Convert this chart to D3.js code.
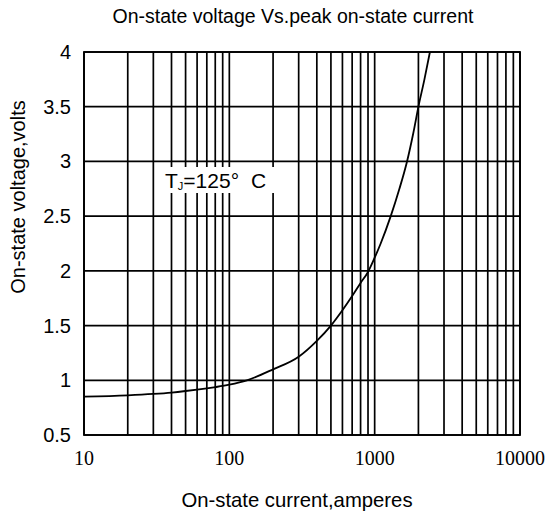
<!DOCTYPE html>
<html lang="en">
<head>
    <meta charset="UTF-8">
    <title>On-state voltage Vs.peak on-state current</title>
    <script src="https://d3js.org/d3.v7.min.js"></script>
    <style type="text/css">
        body { margin: 0; background: white; }
        .sans { font-family: Arial, "Liberation Sans", sans-serif; fill: black; }
        .serif { font-family: "Times New Roman", "Liberation Serif", serif; fill: black; }
        .grid line { stroke: black; stroke-width: 1.7; }
    </style>
</head>
<body>
<script type="text/javascript">

    // peak on-state current (A) vs on-state voltage (V)
    const currentA = [10, 20, 30, 40, 50, 60, 70, 80, 90, 100, 132, 200, 300, 400, 500,
                      600, 700, 800, 900, 1000, 1100, 1290, 1480, 1670, 1845, 2000, 2200, 2400];
    const voltageV = [0.85, 0.862, 0.875, 0.888, 0.902, 0.915, 0.927, 0.938, 0.948, 0.96, 1.0, 1.1,
                      1.215, 1.36, 1.5, 1.64, 1.77, 1.89, 1.99, 2.12, 2.25, 2.5, 2.75, 3.0,
                      3.26, 3.5, 3.75, 4.0];

    const xTickLabels = [10, 100, 1000, 10000];
    const yTickValues = [0.5, 1, 1.5, 2, 2.5, 3, 3.5, 4];

    const width = 549, height = 515;
    const plot = { left: 84, right: 520, top: 52, bottom: 435 };

    const svg = d3.select("body").append("svg")
        .attr("width", width)
        .attr("height", height);

    const x = d3.scaleLog().domain([10, 10000]).range([plot.left, plot.right]);
    const y = d3.scaleLinear().domain([0.5, 4]).range([plot.bottom, plot.top]);

    // grid: every 1..9 in each decade, plus the voltage steps
    const grid = svg.append("g").attr("class", "grid");
    grid.selectAll(".v")
        .data(x.ticks())
        .enter().append("line")
        .attr("x1", d => x(d)).attr("x2", d => x(d))
        .attr("y1", plot.top).attr("y2", plot.bottom);
    grid.selectAll(".h")
        .data(yTickValues)
        .enter().append("line")
        .attr("x1", plot.left).attr("x2", plot.right)
        .attr("y1", d => y(d)).attr("y2", d => y(d));

    // label with white box
    svg.append("rect")
        .attr("x", 155).attr("y", 167)
        .attr("width", 130).attr("height", 26)
        .attr("fill", "white");
    const lbl = svg.append("text")
        .attr("class", "sans")
        .attr("x", 165).attr("y", 188)
        .style("font-size", "21px");
    lbl.append("tspan").text("T");
    lbl.append("tspan").attr("dy", 2).style("font-size", "11px").text("J");
    lbl.append("tspan").attr("dy", -2).text("=125°");
    lbl.append("tspan").attr("dx", 12).text("C");

    // curve
    const line = d3.line()
        .x((d, i) => x(currentA[i]))
        .y(d => y(d))
        .curve(d3.curveMonotoneX);
    svg.append("path")
        .datum(voltageV)
        .attr("d", line)
        .attr("fill", "none")
        .attr("stroke", "black")
        .attr("stroke-width", 1.8);

    // frame
    svg.append("rect")
        .attr("x", plot.left).attr("y", plot.top)
        .attr("width", plot.right - plot.left).attr("height", plot.bottom - plot.top)
        .attr("fill", "none")
        .attr("stroke", "black")
        .attr("stroke-width", 1.8);

    // tick labels
    svg.selectAll(".ylab")
        .data(yTickValues)
        .enter().append("text")
        .attr("class", "sans")
        .attr("x", 71)
        .attr("y", d => y(d) + 7)
        .attr("text-anchor", "end")
        .style("font-size", "20px")
        .text(d => d);

    svg.selectAll(".xlab")
        .data(xTickLabels)
        .enter().append("text")
        .attr("class", "serif")
        .attr("x", d => x(d))
        .attr("y", 465)
        .attr("text-anchor", "middle")
        .style("font-size", "20px")
        .text(d => d);

    // titles
    svg.append("text")
        .attr("class", "sans")
        .attr("x", 293).attr("y", 23)
        .attr("text-anchor", "middle")
        .style("font-size", "19.5px")
        .text("On-state voltage Vs.peak on-state current");

    svg.append("text")
        .attr("class", "sans")
        .attr("x", 297).attr("y", 507)
        .attr("text-anchor", "middle")
        .style("font-size", "20.3px")
        .text("On-state current,amperes");

    svg.append("text")
        .attr("class", "sans")
        .attr("transform", "translate(25,197) rotate(-90)")
        .attr("text-anchor", "middle")
        .style("font-size", "20px")
        .text("On-state voltage,volts");

</script>
</body>
</html>
